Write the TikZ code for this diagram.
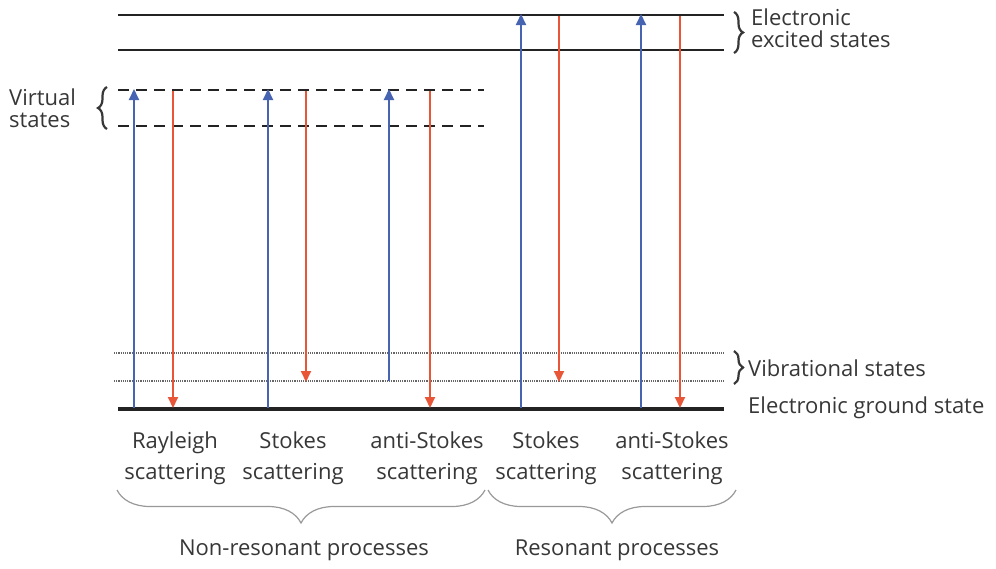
\documentclass[tikz,border=0pt]{standalone}
\usepackage{fontspec}
\setmainfont{Open Sans}
\usetikzlibrary{decorations.pathreplacing,arrows.meta}
\definecolor{upblue}{RGB}{70,100,178}
\definecolor{downred}{RGB}{232,85,55}
\definecolor{txt}{RGB}{55,55,55}
\definecolor{lvlcol}{RGB}{35,35,35}
\begin{document}
\begin{tikzpicture}[x=1pt,y=-1pt,
  every node/.style={font=\fontsize{22}{31}\selectfont, text=txt, inner sep=0pt},
  tight/.style={font=\fontsize{22}{21.5}\selectfont},
  solidlvl/.style={line width=2pt, draw=lvlcol},
  groundlvl/.style={line width=4pt, draw=lvlcol},
  virtlvl/.style={line width=2pt, draw=lvlcol, dash pattern=on 11pt off 7pt},
  viblvl/.style={line width=2pt, draw=black!60, dash pattern=on 1.2pt off 1pt},
  uparrow/.style={line width=2pt, draw=upblue, -{Triangle[length=11pt,width=10pt]}},
  downarrow/.style={line width=2pt, draw=downred, -{Triangle[length=11pt,width=10pt]}},
  sidebrace/.style={decorate, decoration={brace, amplitude=9pt}, line width=2.2pt, draw=txt},
  groupbrace/.style={decorate, decoration={brace, amplitude=33pt}, line width=1.2pt, draw=black!40},
]
\useasboundingbox (0,0) rectangle (996,568);

% levels
\draw[solidlvl] (118,15) -- (724,15);
\draw[solidlvl] (118,50) -- (724,50);
\draw[virtlvl] (118,90) -- (484,90);
\draw[virtlvl] (118,126) -- (484,126);
\draw[viblvl] (114,353) -- (724,353);
\draw[viblvl] (114,381) -- (724,381);
\draw[groundlvl] (118,409) -- (724,409);

% arrow endpoints
\coordinate (r1b) at (134,408); \coordinate (r1t) at (134,89);
\coordinate (r2t) at (173,91);  \coordinate (r2b) at (173,408);
\coordinate (s1b) at (268,408); \coordinate (s1t) at (268,89);
\coordinate (s2t) at (306,91);  \coordinate (s2b) at (306,382);
\coordinate (a1b) at (389,381); \coordinate (a1t) at (389,89);
\coordinate (a2t) at (430,91);  \coordinate (a2b) at (430,408);
\coordinate (rs1b) at (521,408); \coordinate (rs1t) at (521,14);
\coordinate (rs2t) at (559,16);  \coordinate (rs2b) at (559,382);
\coordinate (ra1b) at (641,408); \coordinate (ra1t) at (641,14);
\coordinate (ra2t) at (680,16);  \coordinate (ra2b) at (680,408);

\draw[uparrow] (r1b) -- (r1t);
\draw[downarrow] (r2t) -- (r2b);
\draw[uparrow] (s1b) -- (s1t);
\draw[downarrow] (s2t) -- (s2b);
\draw[uparrow] (a1b) -- (a1t);
\draw[downarrow] (a2t) -- (a2b);
\draw[uparrow] (rs1b) -- (rs1t);
\draw[downarrow] (rs2t) -- (rs2b);
\draw[uparrow] (ra1b) -- (ra1t);
\draw[downarrow] (ra2t) -- (ra2b);

% side braces and labels
\draw[sidebrace] (734,12) -- (734,53);
\node[tight, anchor=west, align=left] (exc) at (751,28) {Electronic\\excited states};
\draw[sidebrace] (107,129) -- (107,87);
\node[tight, anchor=west, align=left] (virt) at (9,108) {Virtual\\states};
\draw[sidebrace] (734,351) -- (734,384);
\node[anchor=west] (vib) at (748,368) {Vibrational states};
\node[anchor=west] (gnd) at (748,408) {Electronic ground state};

% process labels
\node[align=center] (l1) at (175,458) {Rayleigh\\scattering};
\node[align=center] (l2) at (293,458) {Stokes\\scattering};
\node[align=center] (l3) at (427,458) {anti-Stokes\\scattering};
\node[align=center] (l4) at (546,458) {Stokes\\scattering};
\node[align=center] (l5) at (672,458) {anti-Stokes\\scattering};

% group braces
\draw[groupbrace] (485,490) -- (117,490);
\draw[groupbrace] (736,490) -- (488,490);
\node (g1) at (304,550) {Non-resonant processes};
\node (g2) at (617,550) {Resonant processes};
\end{tikzpicture}
\end{document}
